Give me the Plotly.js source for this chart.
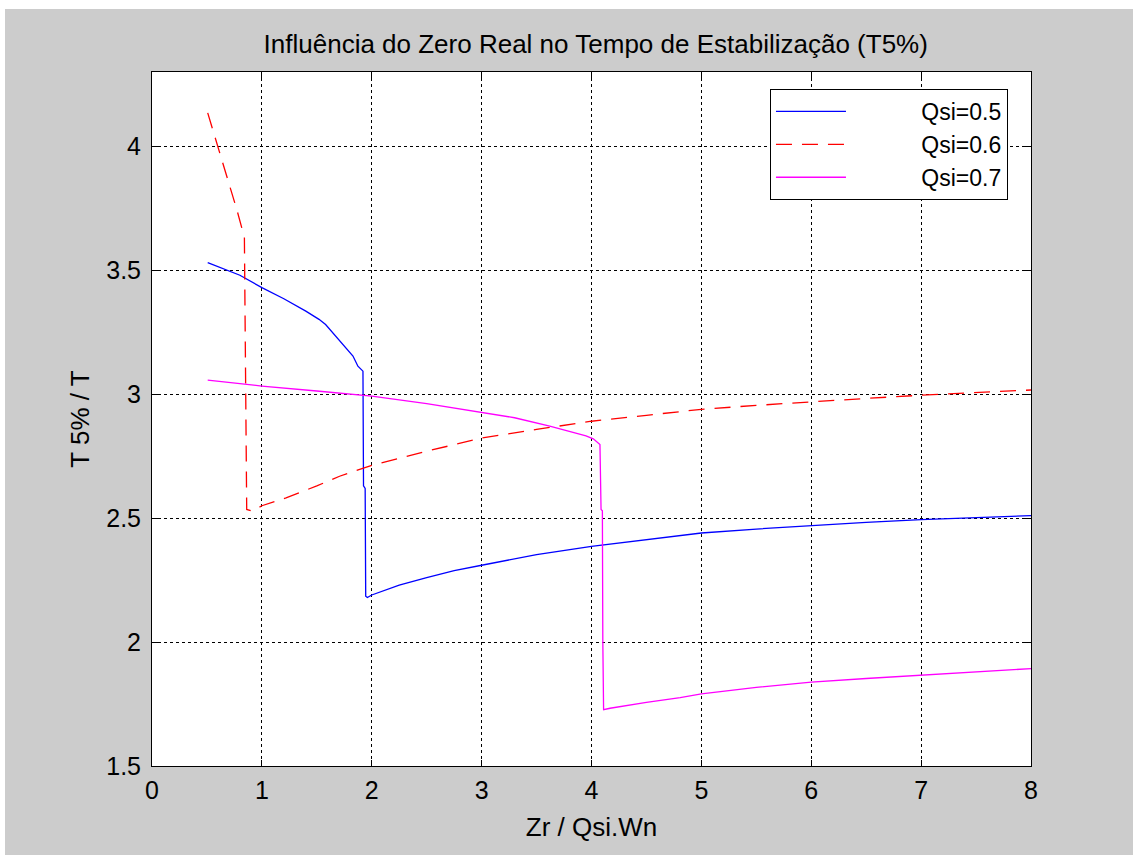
<!DOCTYPE html>
<html>
<head>
<meta charset="utf-8">
<script src="https://cdn.plot.ly/plotly-3.0.1.min.js"></script>
<style>
html,body{margin:0;padding:0;background:#ffffff;width:1133px;height:855px;overflow:hidden;}
#chart{position:absolute;left:5px;top:9px;width:1128px;height:846px;}
</style>
</head>
<body>
<div id="chart"></div>
<script>
// Qsi = 0.5
const x05 = [0.507,0.6,0.8,1.0,1.2,1.4,1.47,1.52,1.58,1.646,1.7,1.768,1.829,1.874,1.92,1.925,1.94,1.945,1.96,2.0,2.25,2.5,2.75,3.0,3.5,4.0,4.5,5.0,5.5,6.0,6.5,7.0,7.5,8.0];
const y05 = [3.531,3.515,3.48,3.43,3.385,3.335,3.316,3.302,3.281,3.248,3.222,3.188,3.154,3.113,3.093,2.63,2.62,2.185,2.18,2.19,2.23,2.26,2.288,2.31,2.353,2.386,2.414,2.44,2.456,2.47,2.483,2.494,2.503,2.51];
// Qsi = 0.6
const x06 = [0.507,0.6,0.7,0.775,0.841,0.862,0.917,1.0,1.22,1.5,1.707,2.0,2.5,3.0,3.5,4.0,4.5,5.0,5.5,6.0,6.5,7.0,7.5,8.0];
const y06 = [4.135,4.0,3.848,3.74,3.632,2.535,2.528,2.55,2.582,2.63,2.669,2.713,2.77,2.823,2.858,2.891,2.915,2.939,2.955,2.97,2.983,2.996,3.007,3.017];
// Qsi = 0.7
const x07 = [0.507,1.0,1.5,2.0,2.5,3.0,3.3,3.62,3.865,3.95,4.016,4.077,4.087,4.099,4.103,4.11,4.169,4.5,4.807,5.0,5.5,6.0,6.5,7.0,7.5,8.0];
const y07 = [3.057,3.033,3.013,2.992,2.962,2.928,2.905,2.871,2.842,2.832,2.82,2.797,2.535,2.53,2.0,1.727,1.733,1.757,1.776,1.791,1.817,1.838,1.853,1.867,1.881,1.893];

const seriesNames = ['Qsi=0.5','Qsi=0.6','Qsi=0.7'];
const xTicks = [0,1,2,3,4,5,6,7,8];
const yTicks = [1.5,2,2.5,3,3.5,4];

const pad = '\u00a0'.repeat(11);
const FONT = 'Liberation Sans, Arial, sans-serif';

const traces = [
  {x:x05, y:y05, mode:'lines', name:pad+seriesNames[0], line:{color:'#0000ff', width:1.3}},
  {x:x06, y:y06, mode:'lines', name:pad+seriesNames[1], line:{color:'#ff0000', width:1.3, dash:'16px,10px'}},
  {x:x07, y:y07, mode:'lines', name:pad+seriesNames[2], line:{color:'#ff00ff', width:1.3}}
];

const axisCommon = {
  showline:true, mirror:'ticks', linecolor:'#000', linewidth:1,
  ticks:'inside', ticklen:6, tickcolor:'#000', tickwidth:1,
  showgrid:true, gridcolor:'#000', gridwidth:1, griddash:'dot',
  zeroline:false, tickfont:{family:FONT, size:25, color:'#000'}
};

const layout = {
  width:1128, height:846,
  paper_bgcolor:'#cccccc', plot_bgcolor:'#ffffff',
  margin:{l:147, r:102, t:63, b:89},
  font:{family:FONT, color:'#000'},
  title:{text:'Influência do Zero Real no Tempo de Estabilização (T5%)', font:{family:FONT, size:26, color:'#000'},
         x:0.5237, xanchor:'center', xref:'container', y:1-35/846, yref:'container', yanchor:'middle'},
  xaxis:Object.assign({}, axisCommon, {range:[0,8], tickvals:xTicks, ticktext:xTicks.map(String), ticklabelstandoff:2,
         title:{text:'Zr / Qsi.Wn', font:{family:FONT, size:26, color:'#000'}, standoff:14}}),
  yaxis:Object.assign({}, axisCommon, {range:[1.5,4.3], tickvals:yTicks, ticktext:yTicks.map(String), ticklabelstandoff:5,
         title:{text:'T 5% / T', font:{family:FONT, size:26, color:'#000'}, standoff:9}}),
  showlegend:true,
  legend:{x:0.9738, y:0.9755, xanchor:'right', yanchor:'top', bgcolor:'#ffffff', bordercolor:'#000', borderwidth:1,
          font:{family:FONT, size:23, color:'#000'}, itemwidth:70, tracegroupgap:0}
};

Plotly.newPlot('chart', traces, layout, {displayModeBar:false, staticPlot:true});
</script>
</body>
</html>
